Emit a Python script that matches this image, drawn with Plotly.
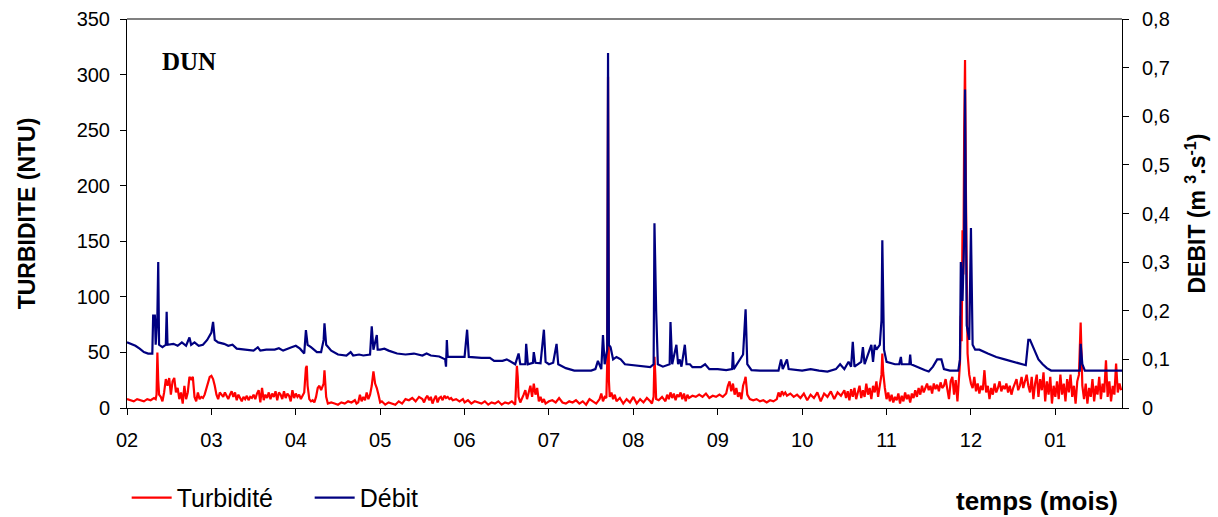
import plotly.graph_objects as go

# ---------------- data (x = month index from start of February) ----------------
month_labels = ["02", "03", "04", "05", "06", "07", "08", "09", "10", "11", "12", "01"]

debit_t = [0.00, 0.05, 0.10, 0.15, 0.20, 0.25, 0.30, 0.31, 0.33, 0.34, 0.36, 0.37, 0.38, 0.42, 0.46, 0.47, 0.48,
           0.55, 0.60, 0.65, 0.70, 0.74, 0.76, 0.80, 0.85, 0.90, 0.95, 1.00, 1.02, 1.04, 1.08, 1.15, 1.20, 1.25,
           1.30, 1.40, 1.50, 1.55, 1.58, 1.65, 1.75, 1.80, 1.85, 1.95, 2.00, 2.05, 2.10, 2.12, 2.14, 2.18, 2.25,
           2.30, 2.33, 2.34, 2.36, 2.42, 2.50, 2.60, 2.65, 2.68, 2.75, 2.80, 2.88, 2.90, 2.92, 2.96, 2.97, 3.00,
           3.05, 3.10, 3.20, 3.30, 3.40, 3.50, 3.55, 3.60, 3.70, 3.77, 3.78, 3.79, 3.80, 3.90, 4.00, 4.03, 4.05,
           4.20, 4.30, 4.35, 4.45, 4.50, 4.55, 4.60, 4.64, 4.66, 4.72, 4.73, 4.75, 4.81, 4.82, 4.84, 4.90, 4.94,
           4.96, 5.00, 5.05, 5.09, 5.11, 5.20, 5.30, 5.40, 5.50, 5.55, 5.58, 5.62, 5.64, 5.66, 5.69, 5.70, 5.71,
           5.73, 5.76, 5.80, 5.85, 5.90, 6.00, 6.10, 6.20, 6.24, 6.25, 6.27, 6.29, 6.35, 6.43, 6.44, 6.46, 6.51,
           6.53, 6.55, 6.57, 6.61, 6.63, 6.67, 6.70, 6.80, 6.85, 6.90, 7.00, 7.10, 7.17, 7.18, 7.19, 7.30, 7.33,
           7.35, 7.40, 7.50, 7.60, 7.72, 7.75, 7.77, 7.82, 7.84, 8.00, 8.10, 8.20, 8.30, 8.40, 8.45, 8.50, 8.55,
           8.58, 8.60, 8.62, 8.70, 8.72, 8.74, 8.80, 8.82, 8.84, 8.86, 8.88, 8.92, 8.94, 8.95, 8.97, 9.00, 9.10,
           9.15, 9.17, 9.18, 9.27, 9.28, 9.29, 9.35, 9.45, 9.50, 9.55, 9.60, 9.65, 9.68, 9.75, 9.85, 9.87, 9.88,
           9.90, 9.92, 9.93, 9.95, 9.98, 10.00, 10.02, 10.05, 10.10, 10.20, 10.30, 10.40, 10.50, 10.60, 10.65,
           10.68, 10.70, 10.75, 10.80, 10.85, 10.90, 10.95, 11.00, 11.10, 11.20, 11.29, 11.30, 11.32, 11.35,
           11.50, 11.65, 11.79]
debit_v = [0.135, 0.132, 0.128, 0.122, 0.115, 0.112, 0.112, 0.19, 0.19, 0.13, 0.19, 0.30, 0.13, 0.125, 0.13, 0.198, 0.13,
           0.132, 0.128, 0.135, 0.128, 0.145, 0.13, 0.135, 0.128, 0.13, 0.14, 0.155, 0.177, 0.14, 0.135, 0.132, 0.128, 0.13,
           0.122, 0.12, 0.118, 0.125, 0.118, 0.12, 0.12, 0.123, 0.118, 0.125, 0.128, 0.122, 0.112, 0.16, 0.13, 0.125, 0.115,
           0.115, 0.14, 0.174, 0.13, 0.118, 0.11, 0.108, 0.115, 0.108, 0.11, 0.108, 0.11, 0.168, 0.12, 0.15, 0.12, 0.12,
           0.122, 0.118, 0.112, 0.11, 0.112, 0.108, 0.112, 0.108, 0.106, 0.10, 0.085, 0.14, 0.105, 0.105, 0.105, 0.161, 0.105,
           0.103, 0.103, 0.097, 0.097, 0.10, 0.095, 0.09, 0.112, 0.09, 0.09, 0.132, 0.09, 0.093, 0.115, 0.093, 0.092, 0.161,
           0.095, 0.09, 0.093, 0.132, 0.09, 0.082, 0.077, 0.077, 0.077, 0.08, 0.097, 0.08, 0.15, 0.09, 0.12, 0.73, 0.13,
           0.125, 0.10, 0.105, 0.10, 0.09, 0.088, 0.085, 0.084, 0.09, 0.38, 0.20, 0.09, 0.085, 0.09, 0.177, 0.09, 0.13,
           0.09, 0.10, 0.085, 0.13, 0.09, 0.09, 0.084, 0.084, 0.09, 0.08, 0.08, 0.078, 0.08, 0.115, 0.08, 0.11, 0.203,
           0.09, 0.078, 0.077, 0.077, 0.077, 0.10, 0.08, 0.10, 0.08, 0.077, 0.08, 0.077, 0.075, 0.08, 0.09, 0.08, 0.095,
           0.085, 0.136, 0.085, 0.095, 0.125, 0.09, 0.12, 0.13, 0.095, 0.13, 0.12, 0.13, 0.18, 0.345, 0.12, 0.095, 0.09,
           0.09, 0.105, 0.09, 0.09, 0.11, 0.09, 0.085, 0.078, 0.075, 0.085, 0.10, 0.10, 0.08, 0.077, 0.077, 0.10, 0.30,
           0.22, 0.35, 0.655, 0.17, 0.14, 0.37, 0.13, 0.12, 0.12, 0.112, 0.105, 0.10, 0.095, 0.09, 0.088,
           0.14, 0.14, 0.12, 0.10, 0.09, 0.082, 0.077, 0.077, 0.077, 0.077, 0.077, 0.132, 0.09, 0.077,
           0.077, 0.077, 0.077]

turb_t = [0.00, 0.04, 0.08, 0.12, 0.16, 0.20, 0.24, 0.28, 0.32, 0.34, 0.35, 0.36, 0.37, 0.38,
          0.40, 0.42, 0.44, 0.46, 0.48, 0.50, 0.52, 0.54, 0.56, 0.58, 0.60, 0.62, 0.64, 0.66, 0.68, 0.70,
          0.72, 0.74, 0.76, 0.78, 0.80, 0.82, 0.84, 0.86, 0.88, 0.90, 0.92, 0.94, 0.96, 0.98, 1.00, 1.02,
          1.04, 1.06, 1.08, 1.10, 1.12, 1.14, 1.16, 1.18, 1.20, 1.22, 1.24, 1.26, 1.28, 1.30, 1.32, 1.34,
          1.36, 1.38, 1.40, 1.42, 1.44, 1.46, 1.48, 1.50, 1.52, 1.54, 1.56, 1.58, 1.60, 1.62, 1.64, 1.66,
          1.68, 1.70, 1.72, 1.74, 1.76, 1.78, 1.80, 1.82, 1.84, 1.86, 1.88, 1.90, 1.92, 1.94, 1.96, 1.98,
          2.00, 2.02, 2.04, 2.06, 2.08, 2.10, 2.12, 2.13, 2.14, 2.16, 2.18, 2.20, 2.22, 2.24, 2.26, 2.28,
          2.30, 2.33, 2.34, 2.36, 2.38, 2.42, 2.46, 2.50, 2.54, 2.58, 2.62, 2.66, 2.70, 2.72, 2.74, 2.76,
          2.78, 2.80, 2.82, 2.84, 2.86, 2.88, 2.90, 2.92, 2.94, 2.96, 2.98, 3.00, 3.02, 3.06, 3.10, 3.14,
          3.18, 3.22, 3.26, 3.30, 3.34, 3.38, 3.42, 3.46, 3.50, 3.52, 3.54, 3.56, 3.58, 3.60, 3.62, 3.64,
          3.66, 3.68, 3.70, 3.72, 3.74, 3.76, 3.78, 3.80, 3.82, 3.84, 3.86, 3.90, 3.94, 3.98, 4.00, 4.04,
          4.08, 4.12, 4.16, 4.20, 4.24, 4.28, 4.32, 4.36, 4.40, 4.44, 4.48, 4.52, 4.56, 4.60, 4.61, 4.62,
          4.63, 4.64, 4.66, 4.68, 4.70, 4.72, 4.74, 4.76, 4.78, 4.80, 4.82, 4.84, 4.86, 4.88, 4.90, 4.92,
          4.94, 4.96, 5.00, 5.04, 5.08, 5.12, 5.16, 5.20, 5.24, 5.28, 5.32, 5.36, 5.40, 5.44, 5.48, 5.52,
          5.56, 5.60, 5.62, 5.64, 5.66, 5.68, 5.69, 5.70, 5.71, 5.72, 5.74, 5.76, 5.78, 5.80, 5.84, 5.88,
          5.92, 5.96, 6.00, 6.04, 6.08, 6.12, 6.16, 6.20, 6.22, 6.24, 6.25, 6.26, 6.27, 6.30, 6.34, 6.38,
          6.40, 6.42, 6.44, 6.46, 6.48, 6.50, 6.52, 6.54, 6.56, 6.58, 6.60, 6.62, 6.64, 6.66, 6.70, 6.74,
          6.78, 6.82, 6.86, 6.90, 6.94, 6.98, 7.02, 7.06, 7.10, 7.12, 7.14, 7.16, 7.18, 7.20, 7.22, 7.24,
          7.26, 7.28, 7.30, 7.32, 7.33, 7.35, 7.38, 7.42, 7.46, 7.50, 7.54, 7.58, 7.62, 7.66, 7.70, 7.72,
          7.74, 7.76, 7.78, 7.80, 7.82, 7.86, 7.90, 7.94, 7.98, 8.02, 8.06, 8.10, 8.14, 8.18, 8.22, 8.26,
          8.30, 8.34, 8.38, 8.42, 8.46, 8.50, 8.52, 8.54, 8.56, 8.58, 8.60, 8.62, 8.64, 8.66, 8.68, 8.70,
          8.72, 8.74, 8.76, 8.78, 8.80, 8.82, 8.84, 8.86, 8.88, 8.90, 8.92, 8.94, 8.95, 8.96, 8.98, 9.00,
          9.02, 9.04, 9.06, 9.08, 9.10, 9.12, 9.14, 9.16, 9.18, 9.20, 9.22, 9.24, 9.26, 9.28, 9.30, 9.32,
          9.34, 9.36, 9.38, 9.40, 9.42, 9.44, 9.46, 9.48, 9.50, 9.52, 9.54, 9.56, 9.58, 9.60, 9.62, 9.64,
          9.66, 9.68, 9.70, 9.72, 9.74, 9.76, 9.78, 9.80, 9.82, 9.84, 9.86, 9.87, 9.88, 9.89, 9.90, 9.91,
          9.92, 9.93, 9.94, 9.95, 9.96, 9.98, 10.00, 10.02, 10.04, 10.06, 10.08, 10.10, 10.12, 10.14, 10.16,
          10.18, 10.20, 10.22, 10.24, 10.26, 10.28, 10.30, 10.32, 10.34, 10.36, 10.38, 10.40, 10.42, 10.44,
          10.46, 10.48, 10.50, 10.52, 10.54, 10.56, 10.58, 10.60, 10.62, 10.64, 10.66, 10.68, 10.70, 10.72,
          10.74, 10.76, 10.78, 10.80, 10.82, 10.84, 10.86, 10.88, 10.90, 10.92, 10.94, 10.96, 10.98, 11.00,
          11.02, 11.04, 11.06, 11.08, 11.10, 11.12, 11.14, 11.16, 11.18, 11.20, 11.22, 11.24, 11.26, 11.28,
          11.29, 11.30, 11.31, 11.32, 11.34, 11.36, 11.38, 11.40, 11.42, 11.44, 11.46, 11.48, 11.50, 11.52,
          11.54, 11.56, 11.58, 11.60, 11.62, 11.64, 11.66, 11.68, 11.70, 11.72, 11.74, 11.76, 11.78]
turb_v = [8, 7, 6, 8, 7, 6, 8, 7, 9, 8, 12, 50, 25, 12,
          10, 6, 14, 26, 20, 27, 12, 24, 27, 14, 18, 8, 14, 4, 20, 8,
          14, 28, 26, 28, 10, 6, 14, 8, 10, 9, 12, 18, 22, 28, 29, 26,
          20, 12, 8, 14, 12, 10, 14, 11, 8, 12, 15, 10, 14, 7, 12, 9,
          6, 10, 8, 11, 7, 10, 9, 12, 8, 13, 16, 5, 18, 7, 12, 9,
          14, 8, 13, 10, 15, 7, 14, 12, 8, 15, 9, 13, 11, 6, 16, 9,
          13, 10, 12, 8, 11, 14, 36, 38, 20, 8, 6, 7, 5, 10, 18, 20,
          16, 22, 34, 10, 4, 5, 4, 3, 5, 4, 6, 5, 7, 4, 5, 12,
          6, 10, 7, 14, 8, 12, 20, 33, 22, 18, 12, 5, 6, 3, 5, 4,
          3, 6, 4, 8, 7, 9, 6, 10, 8, 5, 9, 11, 7, 10, 4, 8,
          11, 5, 9, 10, 7, 11, 9, 10, 8, 9, 7, 8, 6, 8, 5, 7,
          4, 6, 5, 4, 6, 3, 5, 4, 6, 3, 5, 4, 6, 3, 20, 38,
          28, 10, 5, 8, 12, 16, 8, 14, 20, 10, 22, 12, 18, 6, 10, 5,
          8, 4, 6, 7, 5, 9, 5, 4, 6, 5, 7, 4, 6, 3, 8, 6,
          4, 8, 13, 6, 10, 9, 40, 298, 25, 10, 14, 8, 12, 6, 9, 4,
          8, 5, 10, 4, 8, 5, 9, 6, 4, 10, 46, 30, 8, 7, 10, 6,
          12, 8, 14, 9, 13, 7, 12, 10, 14, 8, 13, 6, 12, 9, 11, 10,
          12, 10, 13, 9, 11, 10, 12, 10, 13, 20, 24, 15, 22, 12, 18, 10,
          14, 8, 20, 25, 28, 12, 8, 7, 8, 6, 7, 5, 7, 6, 8, 14,
          10, 15, 12, 14, 11, 13, 10, 12, 9, 13, 7, 12, 9, 14, 6, 13,
          10, 15, 8, 14, 11, 16, 9, 15, 7, 17, 10, 18, 8, 14, 20, 9,
          16, 10, 22, 12, 18, 8, 20, 14, 24, 10, 20, 30, 49, 32, 18, 8,
          14, 6, 12, 5, 10, 7, 13, 4, 11, 6, 14, 8, 12, 5, 13, 9,
          16, 10, 18, 12, 20, 14, 18, 22, 16, 20, 13, 22, 17, 21, 15, 23,
          18, 20, 26, 18, 8, 24, 28, 12, 25, 6, 30, 40, 83, 60, 160, 120,
          250, 313, 200, 106, 49, 30, 22, 18, 28, 15, 22, 13, 20, 16, 34,
          14, 20, 8, 18, 12, 22, 14, 18, 24, 15, 20, 17, 22, 14,
          20, 12, 18, 22, 26, 16, 20, 28, 18, 24, 30, 20, 14, 28,
          8, 22, 30, 10, 26, 16, 32, 6, 24, 12, 28, 4, 20, 10,
          24, 8, 30, 12, 22, 6, 26, 14, 30, 10, 20, 4, 24, 30,
          55, 77, 50, 20, 8, 22, 4, 18, 10, 26, 6, 20, 12, 28,
          8, 22, 14, 43, 10, 24, 6, 20, 12, 40, 14, 22, 16]

# ---------------- figure ----------------
fig = go.Figure()
fig.add_trace(go.Scatter(x=turb_t, y=turb_v, name="Turbidité", mode="lines",
                         line=dict(color="#FF0000", width=2.2), yaxis="y"))
fig.add_trace(go.Scatter(x=debit_t, y=debit_v, name="Débit", mode="lines",
                         line=dict(color="#000080", width=2.2), yaxis="y2"))

SANS = "Liberation Sans, Arial, sans-serif"
tick_font = dict(family=SANS, size=20, color="black")
title_font = dict(family=SANS, size=23, color="black", weight="bold")

fig.update_layout(
    width=1218, height=517,
    margin=dict(l=127, r=96, t=19, b=109, autoexpand=False),
    paper_bgcolor="white", plot_bgcolor="white",
    separators=", ",
    showlegend=True,
    legend=dict(orientation="h", xref="container", yref="container",
                x=0.104, y=0.037, xanchor="left", yanchor="middle",
                font=dict(family=SANS, size=25, color="black"),
                bgcolor="rgba(0,0,0,0)", itemwidth=40, entrywidth=128),
    xaxis=dict(range=[0, 11.79], tickvals=list(range(len(month_labels))), ticktext=month_labels,
               showline=True, linecolor="black", linewidth=1, ticks="outside", ticklen=6,
               tickcolor="black", showgrid=False, zeroline=False, tickfont=tick_font,
               ticklabelstandoff=8),
    yaxis=dict(range=[0, 350], tickvals=[0, 50, 100, 150, 200, 250, 300, 350],
               showline=True, linecolor="black", linewidth=1, ticks="outside", ticklen=6,
               tickcolor="black", showgrid=False, zeroline=False, tickfont=tick_font,
               ticklabelstandoff=6,
               title=dict(text="TURBIDITE (NTU)", font=title_font, standoff=34)),
    yaxis2=dict(range=[0, 0.8], tickvals=[0, 0.1, 0.2, 0.3, 0.4, 0.5, 0.6, 0.7, 0.8],
                overlaying="y", side="right",
                showline=True, linecolor="black", linewidth=1, ticks="outside", ticklen=6,
                tickcolor="black", showgrid=False, zeroline=False, tickfont=tick_font,
                ticklabelstandoff=9,
                title=dict(text="DEBIT (m <sup>3</sup>.s<sup>-1</sup>)", font=title_font, standoff=20)),
)

# top frame line (grey)
fig.add_shape(type="line", xref="paper", yref="paper", x0=0, x1=1, y0=1, y1=1,
              line=dict(color="#808080", width=2))

fig.add_annotation(text="DUN", xref="paper", yref="paper", x=0.033, y=0.892,
                   xanchor="left", yanchor="middle", showarrow=False,
                   font=dict(family="Liberation Serif, Times New Roman, serif", size=25,
                             color="black", weight="bold"))
fig.add_annotation(text="temps (mois)", xref="paper", yref="paper", x=0.998, y=-0.238,
                   xanchor="right", yanchor="middle", showarrow=False,
                   font=dict(family=SANS, size=26, color="black", weight="bold"))

fig.write_html("out.html", config={"displayModeBar": False},
               post_script="document.body.style.margin='0';")
